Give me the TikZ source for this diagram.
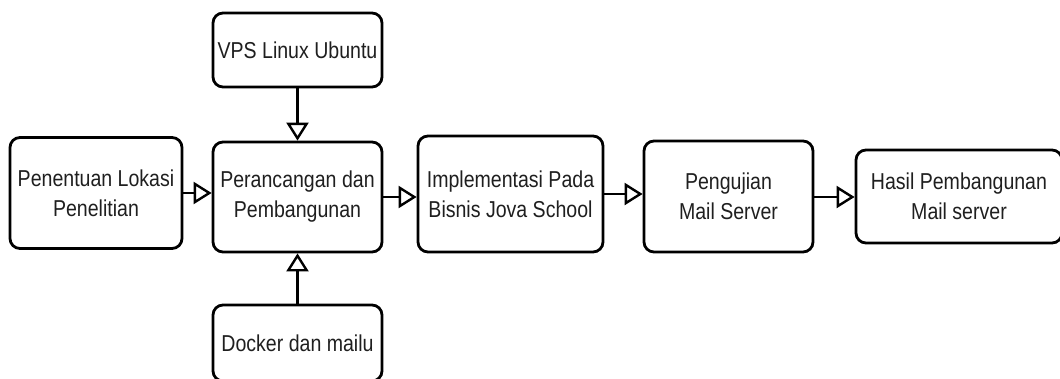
\documentclass[tikz,border=0pt]{standalone}
\usepackage{fontspec}
\setmainfont{Liberation Sans}[FakeStretch=0.85]
\usetikzlibrary{arrows.meta}
\begin{document}
\begin{tikzpicture}[x=1pt,y=-1pt,
  box/.style={draw=black, line width=2.8pt, rounded corners=10pt, align=center,
    font=\fontsize{23}{30}\selectfont, text=black!88, inner sep=0pt},
  arr/.style={draw=black, line width=2.6pt,
    -{Triangle[open, length=18pt, width=22pt, line width=2.4pt]}}]
\clip (0,0) rectangle (1060,378);
\fill[white] (0,0) rectangle (1060,378);
\node[box, minimum width=172pt, minimum height=111pt] (b1) at (96,193) {Penentuan Lokasi\\Penelitian};
\node[box, minimum width=169pt, minimum height=110pt] (b2) at (297.5,197) {Perancangan dan\\Pembangunan};
\node[box, minimum width=169pt, minimum height=74pt] (vps) at (297.5,50) {VPS Linux Ubuntu};
\node[box, minimum width=169pt, minimum height=76pt] (dock) at (297.5,343) {Docker dan mailu};
\node[box, minimum width=185pt, minimum height=116pt] (b3) at (510.5,194) {Implementasi Pada\\Bisnis Jova School};
\node[box, minimum width=169pt, minimum height=111pt] (b4) at (728.5,196.5) {Pengujian\\Mail Server};
\node[box, minimum width=206pt, minimum height=93pt] (b5) at (959,196.5) {Hasil Pembangunan\\Mail server};
\draw[arr] (b1.east |- 0,193) -- (b2.west |- 0,193);
\draw[arr] (b2.east |- 0,197) -- (b3.west |- 0,197);
\draw[arr] (b3.east |- 0,194) -- (b4.west |- 0,194);
\draw[arr] (b4.east |- 0,197) -- (b5.west |- 0,197);
\draw[arr] (vps) -- (b2);
\draw[arr] (dock) -- (b2);
\end{tikzpicture}
\end{document}
